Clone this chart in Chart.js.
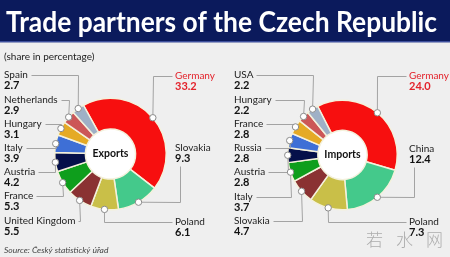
<!DOCTYPE html>
<html>
<head>
<meta charset="utf-8">
<script src="https://cdn.jsdelivr.net/npm/chart.js@4.4.1/dist/chart.umd.min.js"></script>
<style>
body{margin:0;width:450px;height:257px;overflow:hidden;background:#efefef;font-family:Lato,sans-serif}
canvas{position:absolute;top:0}
#bg{left:0}
#exp{left:0}
#imp{left:225px}
#wm{position:absolute;left:366px;top:226px;font:300 17px "Noto Sans CJK SC";color:rgba(150,150,150,0.75);letter-spacing:13px;white-space:nowrap}
</style>
</head>
<body>
<canvas id="bg" width="450" height="257"></canvas>
<canvas id="exp" width="225" height="257"></canvas>
<canvas id="imp" width="225" height="257"></canvas>
<div id="wm">若水网</div>
<script>
var titleText = "Trade partners of the Czech Republic";
var subtitleText = "(share in percentage)";
var sourceText = "Source: Český statistický úřad";

var exportLabels = ["Germany","Slovakia","Poland","United Kingdom","France","Austria","Italy","Hungary","Netherlands","Spain"];
var exportValues = [33.2, 9.3, 6.1, 5.5, 5.3, 4.2, 3.9, 3.1, 2.9, 2.7];
var importLabels = ["Germany","China","Poland","Slovakia","Italy","Austria","Russia","France","Hungary","USA"];
var importValues = [24.0, 12.4, 7.3, 4.7, 3.7, 2.8, 2.8, 2.8, 2.2, 2.2];

var sliceColors = ["#f70f0f","#44c98b","#c9bf48","#8a3232","#0e9e1c","#05104a","#3e6fd6","#e5aa25","#cc5757","#9fb0c6"];

// label placement: [x, name y, route]
var exportPlaces = [
    [175,76,"h"],[175,148,"below"],[175,222,"h"],
    [4,221,"left"],[4,196,"left"],[4,172,"left"],[4,148,"left"],[4,124,"left"],[4,100,"left"],[4,75,"left"]
];
var importPlaces = [
    [184,76,"h"],[184,149,"below"],[184,222,"h"],
    [9,221,"left"],[9,197,"left"],[9,172,"left"],[9,148,"left"],[9,124,"left"],[9,100,"left"],[9,75,"left"]
];

// background, title etc
var bg = document.getElementById("bg").getContext("2d");
bg.fillStyle = "#efefef";
bg.fillRect(0,0,450,257);
bg.fillStyle = "#0b1a5c";
bg.fillRect(0,0,450,41);
bg.fillStyle = "#3d4f9c";
bg.fillRect(0,41,450,1.5);
bg.fillStyle = "#ffffff";
bg.font = "bold 28px Lato";
var tw = bg.measureText(titleText).width;
bg.save();
bg.translate(6,32);
bg.scale(431/tw,1);
bg.fillText(titleText,0,0);
bg.restore();
bg.fillStyle = "#222";
bg.font = "10px Lato";
bg.textBaseline = "middle";
bg.fillText(subtitleText,4,57);
bg.fillStyle = "#444";
bg.font = "italic 8.5px Lato";
bg.fillText(sourceText,4,250);

var leaderPlugin = {
    id: "leaders",
    beforeDatasetsDraw: function(chart){
        var arc = chart.getDatasetMeta(0).data[0];
        var ctx = chart.ctx;
        ctx.save();
        ctx.fillStyle = "#fff";
        ctx.beginPath();
        ctx.arc(arc.x, arc.y, arc.innerRadius, 0, Math.PI*2);
        ctx.fill();
        ctx.restore();
    },
    afterDatasetsDraw: function(chart, args, opts){
        var ctx = chart.ctx;
        var meta = chart.getDatasetMeta(0);
        var labels = chart.data.labels;
        var values = chart.data.datasets[0].data;
        var marks = [];
        ctx.save();
        ctx.strokeStyle = "#a3a3a3";
        ctx.lineWidth = 1;
        meta.data.forEach(function(arc, i){
            var p = opts.places[i];
            var mid = (arc.startAngle + arc.endAngle)/2;
            var mx = arc.x + Math.cos(mid)*arc.outerRadius;
            var my = arc.y + Math.sin(mid)*arc.outerRadius;
            marks.push([mx,my]);
            ctx.font = "10px Lato";
            var ax, ay, ex, ey;
            if(p[2]=="left"){
                ax = p[0] + ctx.measureText(labels[i]).width + 3; ay = p[1];
                ex = mx; ey = p[1];
            } else if(p[2]=="h"){
                ax = p[0] - 3; ay = p[1];
                ex = mx; ey = p[1];
            } else {
                ax = p[0] + 5; ay = p[1] + 18;
                ex = p[0] + 5; ey = my;
            }
            ctx.beginPath();
            ctx.moveTo(Math.round(ax)+0.5, Math.round(ay)+0.5);
            ctx.lineTo(Math.round(ex)+0.5, Math.round(ey)+0.5);
            ctx.lineTo(mx, my);
            ctx.stroke();

            ctx.textBaseline = "middle";
            ctx.fillStyle = i==0 ? "#e3222b" : "#222";
            ctx.fillText(labels[i], p[0], p[1]);
            ctx.font = "bold 11px Lato";
            ctx.fillStyle = i==0 ? "#e3222b" : "#111";
            ctx.fillText(values[i].toFixed(1), p[0], p[1]+10.5);
        });
        marks.forEach(function(m){
            ctx.beginPath();
            ctx.arc(m[0], m[1], 3.2, 0, Math.PI*2);
            ctx.fillStyle = "#fff";
            ctx.fill();
            ctx.strokeStyle = "#8a8a8a";
            ctx.stroke();
        });
        var c = meta.data[0];
        ctx.font = "bold 10.5px Lato";
        ctx.fillStyle = "#111";
        ctx.textAlign = "center";
        ctx.fillText(opts.center, c.x, c.y);
        ctx.restore();
    }
};

function makeChart(id, labels, values, places, center, rotation, padding){
    return new Chart(document.getElementById(id), {
        type: "doughnut",
        data: {
            labels: labels,
            datasets: [{
                data: values,
                backgroundColor: sliceColors,
                borderColor: "#f4f1dc",
                borderWidth: 1.5,
                hoverOffset: 0
            }]
        },
        options: {
            responsive: false,
            animation: false,
            events: [],
            rotation: rotation,
            cutout: "45%",
            layout: {padding: padding},
            plugins: {
                legend: {display:false},
                tooltip: {enabled:false},
                leaders: {places: places, center: center}
            }
        },
        plugins: [leaderPlugin]
    });
}

makeChart("exp", exportLabels, exportValues, exportPlaces, "Exports", -29, {left:54, right:58, top:97, bottom:46});
makeChart("imp", importLabels, importValues, importPlaces, "Imports", -27, {left:62, right:52, top:99, bottom:46});
</script>
</body>
</html>
